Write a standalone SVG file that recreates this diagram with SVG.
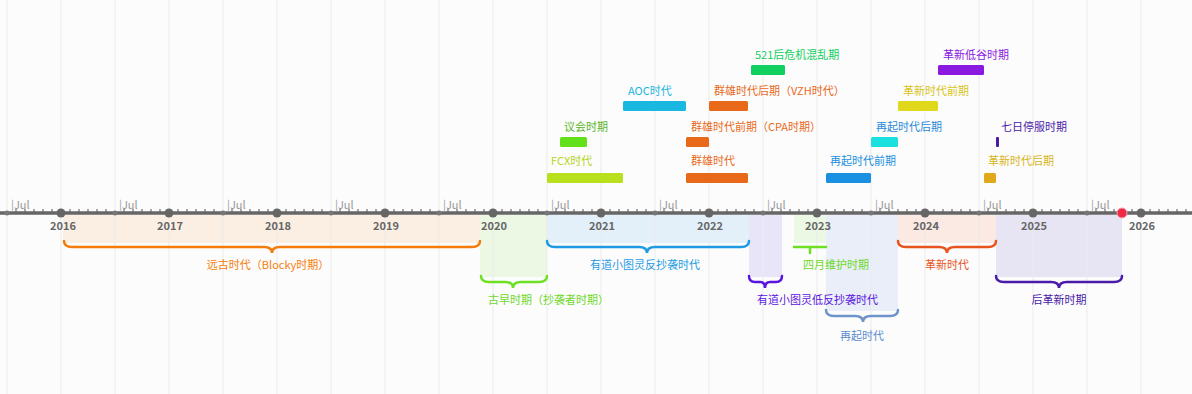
<svg xmlns="http://www.w3.org/2000/svg" width="1192" height="394" viewBox="0 0 1192 394">
<style>
text{font-family:"Noto Sans CJK SC","Liberation Sans",sans-serif;font-size:11px}
.grid{stroke:#ebebeb;stroke-width:1}
.yr{font-family:"Liberation Sans",sans-serif;font-weight:bold;font-size:12px;fill:#666;text-anchor:middle}
.jul{font-family:"Liberation Sans",sans-serif;font-size:7px;fill:#999}
.tick{stroke:#777;stroke-width:1.3}
.brace{fill:none;stroke-width:2.5;stroke-linecap:round}
.lbl{text-anchor:middle}
</style>
<rect width="1192" height="394" fill="#fcfcfc"/>
<g id="shading">
<rect x="63" y="215" width="417" height="28" fill="#fbefe3"/>
<rect x="480" y="215" width="67" height="62" fill="#ecf8e4"/>
<rect x="547" y="215" width="202" height="28" fill="#e3f0fa"/>
<rect x="749" y="215" width="33" height="62" fill="#e9e5f8"/>
<rect x="794" y="215" width="32" height="28" fill="#ebf8e3"/>
<rect x="826" y="215" width="72" height="96" fill="#e9eef8"/>
<rect x="898" y="215" width="98" height="28" fill="#fbe9e3"/>
<rect x="996" y="215" width="126" height="62" fill="#e7e4f3"/>
</g>
<g id="grid">
<line class="grid" x1="7" y1="0" x2="7" y2="394"/>
<line class="grid" x1="61" y1="0" x2="61" y2="394"/>
<line class="grid" x1="115" y1="0" x2="115" y2="394"/>
<line class="grid" x1="169" y1="0" x2="169" y2="394"/>
<line class="grid" x1="223" y1="0" x2="223" y2="394"/>
<line class="grid" x1="277" y1="0" x2="277" y2="394"/>
<line class="grid" x1="331" y1="0" x2="331" y2="394"/>
<line class="grid" x1="385" y1="0" x2="385" y2="394"/>
<line class="grid" x1="439" y1="0" x2="439" y2="394"/>
<line class="grid" x1="493" y1="0" x2="493" y2="394"/>
<line class="grid" x1="547" y1="0" x2="547" y2="394"/>
<line class="grid" x1="601" y1="0" x2="601" y2="394"/>
<line class="grid" x1="655" y1="0" x2="655" y2="394"/>
<line class="grid" x1="709" y1="0" x2="709" y2="394"/>
<line class="grid" x1="763" y1="0" x2="763" y2="394"/>
<line class="grid" x1="817" y1="0" x2="817" y2="394"/>
<line class="grid" x1="871" y1="0" x2="871" y2="394"/>
<line class="grid" x1="925" y1="0" x2="925" y2="394"/>
<line class="grid" x1="979" y1="0" x2="979" y2="394"/>
<line class="grid" x1="1033" y1="0" x2="1033" y2="394"/>
<line class="grid" x1="1087" y1="0" x2="1087" y2="394"/>
<line class="grid" x1="1141" y1="0" x2="1141" y2="394"/>
</g>
<g id="axis">
<path class="tick" d="M16 209v3M25 209v3M34 209v3M43 209v3M52 209v3M70 209v3M79 209v3M88 209v3M97 209v3M106 209v3M124 209v3M133 209v3M142 209v3M151 209v3M160 209v3M178 209v3M187 209v3M196 209v3M205 209v3M214 209v3M232 209v3M241 209v3M250 209v3M259 209v3M268 209v3M286 209v3M295 209v3M304 209v3M313 209v3M322 209v3M340 209v3M349 209v3M358 209v3M367 209v3M376 209v3M394 209v3M403 209v3M412 209v3M421 209v3M430 209v3M448 209v3M457 209v3M466 209v3M475 209v3M484 209v3M502 209v3M511 209v3M520 209v3M529 209v3M538 209v3M556 209v3M565 209v3M574 209v3M583 209v3M592 209v3M610 209v3M619 209v3M628 209v3M637 209v3M646 209v3M664 209v3M673 209v3M682 209v3M691 209v3M700 209v3M718 209v3M727 209v3M736 209v3M745 209v3M754 209v3M772 209v3M781 209v3M790 209v3M799 209v3M808 209v3M826 209v3M835 209v3M844 209v3M853 209v3M862 209v3M880 209v3M889 209v3M898 209v3M907 209v3M916 209v3M934 209v3M943 209v3M952 209v3M961 209v3M970 209v3M988 209v3M997 209v3M1006 209v3M1015 209v3M1024 209v3M1042 209v3M1051 209v3M1060 209v3M1069 209v3M1078 209v3M1096 209v3M1105 209v3M1114 209v3M1123 209v3M1132 209v3M1150 209v3M1159 209v3M1168 209v3M1177 209v3M1186 209v3"/>
<line x1="0" y1="213" x2="1192" y2="213" stroke="#666" stroke-width="3.5"/>
<g fill="#777">
<circle cx="7" cy="213" r="2.5"/><circle cx="115" cy="213" r="2.5"/><circle cx="223" cy="213" r="2.5"/><circle cx="331" cy="213" r="2.5"/><circle cx="439" cy="213" r="2.5"/><circle cx="547" cy="213" r="2.5"/><circle cx="655" cy="213" r="2.5"/><circle cx="763" cy="213" r="2.5"/><circle cx="871" cy="213" r="2.5"/><circle cx="979" cy="213" r="2.5"/><circle cx="1087" cy="213" r="2.5"/>
</g>
<g fill="#666">
<circle cx="61" cy="213" r="4.5"/><circle cx="169" cy="213" r="4.5"/><circle cx="277" cy="213" r="4.5"/><circle cx="385" cy="213" r="4.5"/><circle cx="493" cy="213" r="4.5"/><circle cx="601" cy="213" r="4.5"/><circle cx="709" cy="213" r="4.5"/><circle cx="817" cy="213" r="4.5"/><circle cx="925" cy="213" r="4.5"/><circle cx="1033" cy="213" r="4.5"/><circle cx="1141" cy="213" r="4.5"/>
</g>
<g class="jul">
<text x="11" y="209">|Jul</text><text x="119" y="209">|Jul</text><text x="227" y="209">|Jul</text><text x="335" y="209">|Jul</text><text x="443" y="209">|Jul</text><text x="551" y="209">|Jul</text><text x="659" y="209">|Jul</text><text x="767" y="209">|Jul</text><text x="875" y="209">|Jul</text><text x="983" y="209">|Jul</text><text x="1091" y="209">|Jul</text>
</g>
<g class="yr">
<text x="63" y="230">2016</text><text x="170" y="230">2017</text><text x="278" y="230">2018</text><text x="386" y="230">2019</text><text x="494" y="230">2020</text><text x="602" y="230">2021</text><text x="710" y="230">2022</text><text x="818" y="230">2023</text><text x="926" y="230">2024</text><text x="1034" y="230">2025</text><text x="1142" y="230">2026</text>
</g>
<circle cx="1122" cy="213" r="5" fill="#ee2a45" stroke="#f7a0ad" stroke-width="1"/>
</g>
<g id="connectors">
<path class="brace" stroke="#f57c0a" d="M64 241Q64 247 72 247L264 247Q272 247 272 253Q272 247 280 247L472 247Q480 247 480 241"/>
<path class="brace" stroke="#6ee022" d="M481 276Q481 282 489 282L505 282Q513 282 513 288Q513 282 521 282L539 282Q547 282 547 276"/>
<path class="brace" stroke="#1e9be4" d="M547 241Q547 247 555 247L639 247Q647 247 647 253Q647 247 655 247L741 247Q749 247 749 241"/>
<path class="brace" stroke="#5a14e0" d="M749 276Q749 282 755 282L760 282Q765 282 765 288Q765 282 770 282L776 282Q782 282 782 276"/>
<path class="brace" stroke="#6ee022" d="M794 247L826 247M810 247V253"/>
<path class="brace" stroke="#6e93c9" d="M826 310Q826 316 834 316L855 316Q863 316 863 322Q863 316 871 316L890 316Q898 316 898 310"/>
<path class="brace" stroke="#e8541e" d="M898 241Q898 247 906 247L939 247Q947 247 947 253Q947 247 955 247L988 247Q996 247 996 241"/>
<path class="brace" stroke="#4a1aa8" d="M996 276Q996 282 1004 282L1051 282Q1059 282 1059 288Q1059 282 1067 282L1114 282Q1122 282 1122 276"/>
</g>
<g id="n-yuangu"><text class="lbl" x="268" y="269" fill="#f57c0a">远古时代（Blocky时期）</text></g>
<g id="n-guzao"><text x="488" y="304" fill="#6ed82a">古早时期（抄袭者时期）</text></g>
<g id="n-fanchaoxi"><text class="lbl" x="645" y="269" fill="#1e9be4">有道小图灵反抄袭时代</text></g>
<g id="n-difan"><text x="757" y="304" fill="#5a14e0">有道小图灵低反抄袭时代</text></g>
<g id="n-siyue"><text x="803" y="269" fill="#6ed82a">四月维护时期</text></g>
<g id="n-zaiqi"><text class="lbl" x="862" y="340" fill="#5b8cd0">再起时代</text></g>
<g id="n-gexin"><text class="lbl" x="947" y="269" fill="#e8541e">革新时代</text></g>
<g id="n-hougexin"><text class="lbl" x="1059" y="304" fill="#4a1aa8">后革新时期</text></g>
<g id="n-fcx"><rect x="547" y="173" width="76" height="10" rx="1.5" fill="#b8e01c"/><text x="551" y="165" fill="#b5d41c">FCX时代</text></g>
<g id="n-yihui"><rect x="560" y="137" width="27" height="10" rx="1.5" fill="#62e01c"/><text x="564" y="131" fill="#5ab52a">议会时期</text></g>
<g id="n-aoc"><rect x="623" y="101" width="63" height="10" rx="1.5" fill="#1ab8e0"/><text x="628" y="95" fill="#1ab5e0">AOC时代</text></g>
<g id="n-qunxiong"><rect x="686" y="173" width="62" height="10" rx="1.5" fill="#e8691a"/><text x="691" y="165" fill="#e8691a">群雄时代</text></g>
<g id="n-qunxiong-q"><rect x="686" y="137" width="23" height="10" rx="1.5" fill="#e8691a"/><text x="691" y="131" fill="#e8691a">群雄时代前期（CPA时期）</text></g>
<g id="n-qunxiong-h"><rect x="709" y="101" width="39" height="10" rx="1.5" fill="#e8691a"/><text x="714" y="95" fill="#e8691a">群雄时代后期（VZH时代）</text></g>
<g id="n-521"><rect x="751" y="65" width="34" height="10" rx="1.5" fill="#0fd060"/><text x="755" y="59" fill="#0fcf60">521后危机混乱期</text></g>
<g id="n-zaiqi-q"><rect x="826" y="173" width="45" height="10" rx="1.5" fill="#1a90e0"/><text x="830" y="165" fill="#1a8ee0">再起时代前期</text></g>
<g id="n-zaiqi-h"><rect x="871" y="137" width="27" height="10" rx="1.5" fill="#1ae0e0"/><text x="876" y="131" fill="#2a8ad8">再起时代后期</text></g>
<g id="n-gexin-q"><rect x="898" y="101" width="40" height="10" rx="1.5" fill="#e0d81a"/><text x="903" y="95" fill="#d8c41a">革新时代前期</text></g>
<g id="n-digu"><rect x="938" y="65" width="46" height="10" rx="1.5" fill="#8a1ae0"/><text x="943" y="59" fill="#8a1ae0">革新低谷时期</text></g>
<g id="n-qiri"><rect x="996" y="137" width="3" height="10" rx="1" fill="#4a1aa8"/><text x="1001" y="131" fill="#4a1aa8">七日停服时期</text></g>
<g id="n-gexin-h"><rect x="984" y="173" width="12" height="10" rx="1.5" fill="#e0a81a"/><text x="988" y="165" fill="#d8b41a">革新时代后期</text></g>
</svg>
